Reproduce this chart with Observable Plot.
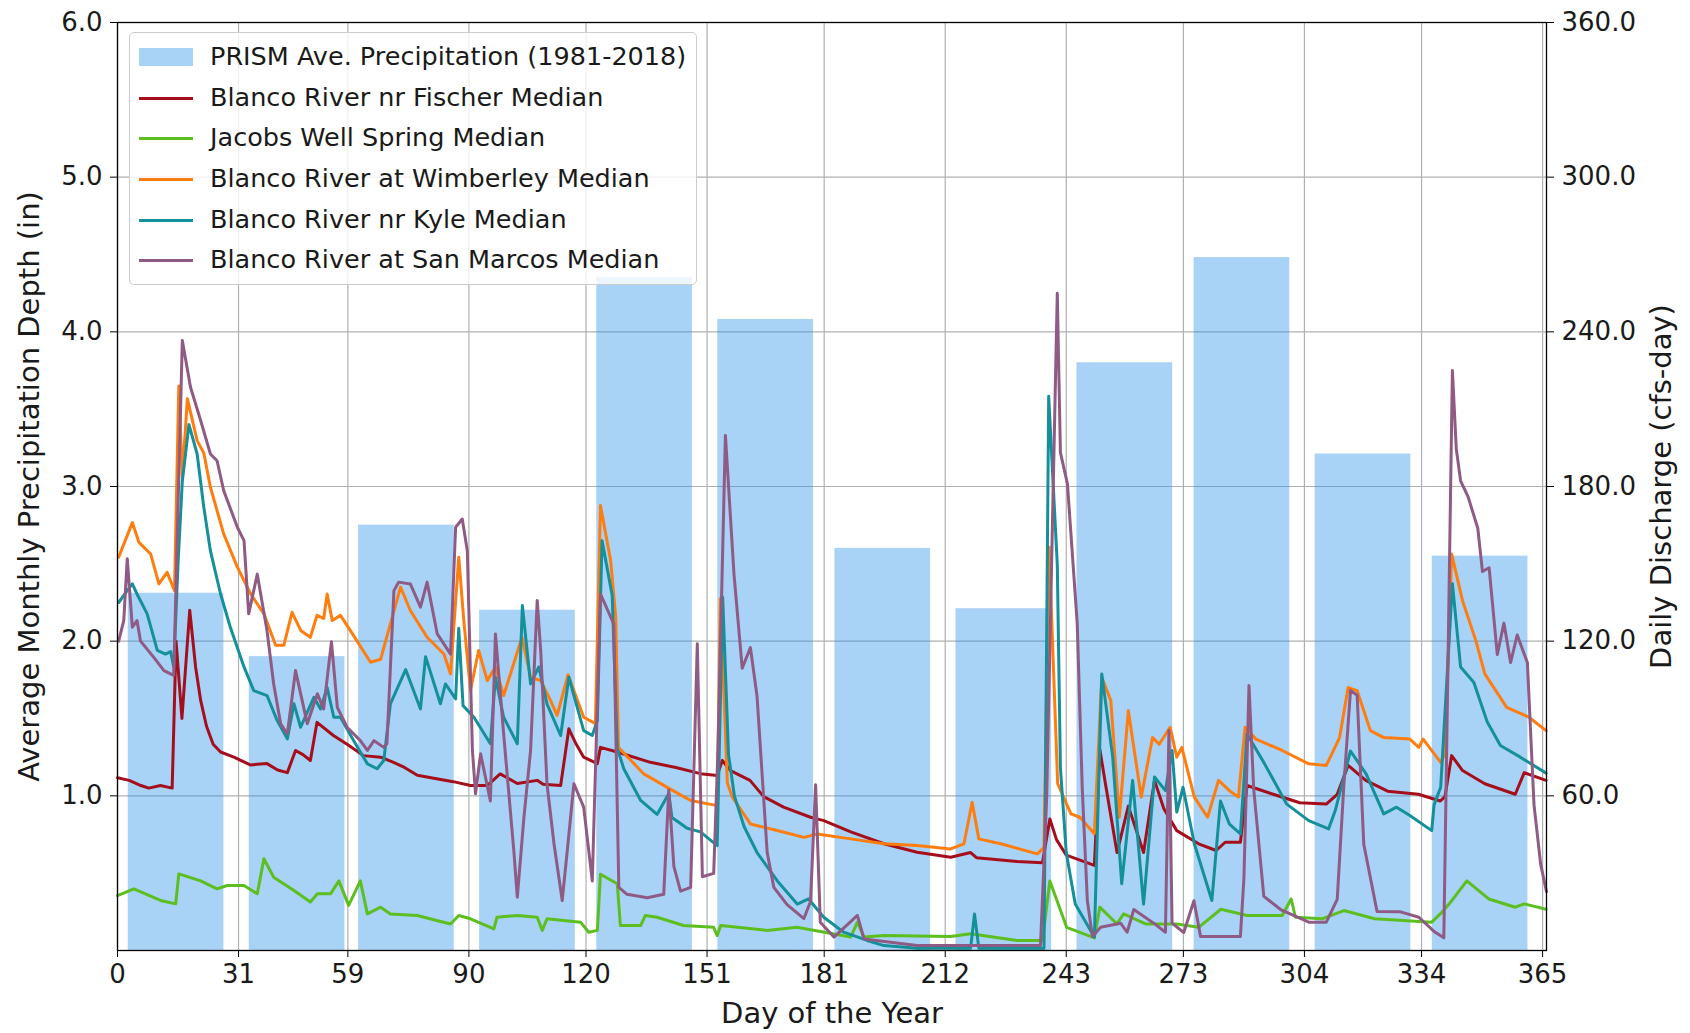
<!DOCTYPE html>
<html>
<head>
<meta charset="utf-8">
<script src="https://cdn.jsdelivr.net/npm/d3@7"></script>
<script src="https://cdn.jsdelivr.net/npm/@observablehq/plot@0.6"></script>
<style>
  html, body { margin: 0; padding: 0; background: #fff; }
  #wrap { position: relative; width: 1690px; height: 1033px; font-family: "DejaVu Sans", sans-serif; }
  #legend { position: absolute; left: 129px; top: 32px; width: 568px; height: 253px;
    background: rgba(255,255,255,0.8); border: 1px solid #cccccc; border-radius: 5px; box-sizing: border-box; }
  .row { position: absolute; left: 0; height: 0; }
  .sw { position: absolute; left: 9px; width: 54px; }
  .lab { position: absolute; left: 80px; font-size: 25.5px; color: #1a1a1a; white-space: nowrap; transform: translateY(-50%); line-height: 1; }
</style>
</head>
<body>
<div id="wrap"></div>
<script>
// ---- data ----
const monthStart = [0, 31, 59, 90, 120, 151, 181, 212, 243, 273, 304, 334];
const precipIn = [2.31, 1.90, 2.75, 2.20, 4.35, 4.08, 2.60, 2.21, 3.80, 4.48, 3.21, 2.55];
const dayTicks = [0, 31, 59, 90, 120, 151, 181, 212, 243, 273, 304, 334, 365];
const leftTicks = [1, 2, 3, 4, 5, 6];
const cfsPerIn = 60; // right axis (cfs-day) / left axis (in)

const seriesNames = [
  "PRISM Ave. Precipitation (1981-2018)",
  "Blanco River nr Fischer Median",
  "Jacobs Well Spring Median",
  "Blanco River at Wimberley Median",
  "Blanco River nr Kyle Median",
  "Blanco River at San Marcos Median"
];

// [day, cfs-day]
const fischer = [[0,67],[3,66],[6,64],[8,63],[11,64],[14,63],[15,120],[16.5,90],[18.5,132],[20,110],[21.3,97],[22.8,87],[24.5,80],[26.4,77],[29.8,75],[34,72],[38.3,72.5],[41,70],[43.5,69],[45.6,77.6],[47.5,76],[49.4,73.7],[51.1,88.5],[55.3,83.4],[58.8,80],[63,75.6],[67.4,75],[70.7,73],[73.5,71],[76.8,68],[81,66.8],[86,65.5],[90.4,64],[94.7,64],[98,68.5],[102.4,64.8],[107.5,66],[109,64.5],[113.5,64],[115.6,86],[117.5,80],[119.4,75],[122.9,72.5],[123.7,78.8],[128,77],[136.5,73],[143,71],[149.3,68.6],[153.6,67.9],[154.9,73.7],[157,69.8],[162,66],[165.5,59.7],[170.6,55.6],[177.5,51.7],[180.9,50.4],[187.8,46],[196.3,41.4],[204.8,38.1],[213.4,36.2],[218.5,38],[220,36],[230.4,34.5],[236.9,34],[238.8,51],[240.5,43],[243,37],[250.2,33],[251.6,78],[253,65],[256,38],[258.9,56],[262.8,38],[265.6,66],[268,55],[271.3,46.5],[276.9,41.4],[281.4,38.8],[283.7,42],[287.6,42],[289.3,64],[296,60.6],[302.8,57.3],[309.6,56.8],[312.4,60.6],[315.2,71.8],[319.7,66],[325.3,61.8],[333.2,60.6],[338.8,58],[340,59.7],[341.7,75.6],[344.5,69.8],[350.2,64.7],[358,60.6],[360.3,69],[365.9,66]];

const jacobsWell = [[0,21.3],[4.2,23.9],[11,19.4],[14.9,18.1],[15.7,29.7],[21.3,27],[25.5,23.9],[28.1,25.2],[32.4,25.2],[35.8,22],[37.5,35.6],[40,28.4],[45.2,23.3],[49.4,18.8],[51.2,22],[54.6,22],[56.7,27],[59.2,17.5],[62.2,27],[64,14.2],[67.4,16.8],[69.9,14.2],[76.8,13.6],[81,11.9],[85.3,10.3],[87.4,13.6],[90.4,12.3],[96.4,8.4],[97.2,12.9],[102.4,13.6],[107.5,12.9],[108.8,7.8],[110,12.3],[118.6,11],[120.7,7.1],[122.9,7.8],[123.7,29.6],[128,25.9],[128.8,9.7],[134,9.7],[135.2,13.6],[138.2,12.9],[145,9.7],[152.7,9],[153.6,5.8],[154.5,9.7],[166.4,7.8],[174,9],[187.8,5.2],[189.5,11],[191.2,5.2],[196.3,5.8],[213.4,5.4],[218.5,6.5],[230.4,3.9],[236.9,3.9],[238.8,27],[243.1,9],[250.2,4.9],[251.6,16.8],[256,10.3],[257.7,14.2],[263.3,10.3],[271.3,10.3],[276.9,9],[282.6,16],[289.3,13.6],[298.3,13.6],[300.6,20],[301.7,12.9],[308.5,12.3],[314.1,15.5],[322,12.3],[336.6,11],[338.8,14.2],[341.1,18.1],[345.6,27],[351.2,20],[358,16.8],[360.3,18.1],[365.9,16]];

const wimberley = [[0.3,152.6],[3.8,166],[5.5,158.3],[8.5,153.8],[10.6,142.2],[12.7,146.7],[14.6,139.6],[15.7,219],[16.6,183.6],[17.9,214],[20.4,197.8],[22.1,193],[23.8,179.7],[27.2,161.6],[30.7,148.7],[34.1,138.3],[37.5,130.6],[40.5,118.4],[42.6,118.4],[44.7,131.2],[47,124],[49.4,121.5],[51.1,130],[52.8,128.8],[53.7,138.3],[55,128],[57.1,130],[59.7,124],[64.8,111.8],[67.4,113],[72.5,141],[75,131.9],[79.3,121.5],[83.6,115],[85.3,107.3],[87.4,152.6],[88.7,128],[90.4,100.9],[92.5,116.4],[94.7,104.7],[96.8,110],[98.9,98.9],[103.6,121.5],[105.8,106],[108.4,104.7],[110.9,97],[112.6,91.2],[115.4,107],[119.4,90.5],[122.4,88],[123.7,172.6],[126.3,151.3],[127.6,129.3],[128.3,78.8],[134.8,68.5],[140.8,63.3],[146.8,58.2],[153.6,56.2],[154.4,136.5],[156.2,65],[157.5,59.4],[162.1,49.1],[170.7,45.9],[175.8,43.9],[179.2,45.2],[187.8,43.3],[196.3,41.4],[204.8,40.7],[213.4,39.4],[216.8,41.4],[218.9,57.5],[220.6,43.3],[226.2,41.4],[235.6,37.5],[237.3,40],[238.6,156.4],[240.8,64.7],[244.2,53],[246.5,51.7],[250.2,45.3],[252.1,106],[254.4,97],[256.6,51.7],[258.9,93],[262.2,59.5],[265.1,82.6],[266.8,80],[269.6,86.6],[271.3,75],[272.6,78.8],[275.8,59.5],[279.2,51.7],[282,66],[284.8,62],[287.1,59.5],[288.8,86.6],[291.6,82],[298.3,77.6],[305.1,72.4],[309.6,71.8],[313,82.6],[315.2,102],[317.5,100.8],[320.9,85.3],[324.3,82.6],[331,82],[333.3,78.8],[334.4,82],[338.9,73],[340,76],[341.7,153.8],[344.5,135.7],[347.9,120.2],[350.2,107.3],[355.8,94.3],[361.5,90.5],[365.9,85.3]];

const kyle = [[0.3,135],[2.5,139.6],[3.8,142.2],[5,138.3],[7.6,130.6],[10.2,116.4],[12.3,115],[13.6,116],[14.4,110],[15.5,150],[16.6,182],[18.3,204],[20.4,192.6],[22.1,172],[23.8,155],[26.4,138.3],[28.9,125.4],[32.4,110],[34.9,100.8],[38.3,98.9],[40.9,89.2],[43.5,82.1],[45.2,95.7],[46.9,86.6],[50.3,98.2],[52,93.7],[53.7,102],[55.4,90.5],[57.1,90.5],[60.5,81.4],[64,72.4],[66.5,70.5],[68.2,73.7],[69.9,95.7],[73.8,109],[77.6,93.7],[78.9,114],[82.7,95.7],[84,103.4],[86.6,97.6],[87.4,125],[88.5,95],[91.3,90.5],[95.5,80.2],[96.8,106],[98.9,90.5],[102.4,80.2],[103.7,133.8],[105.8,103.4],[107.9,110],[110,95.7],[113.5,83.4],[115.6,106],[119.4,85.3],[121.6,83.4],[122.9,89.2],[124.1,159],[126.7,137.8],[128,78.5],[129.7,70.4],[134,58.2],[138.2,52.8],[141.2,60.9],[142,51.6],[145.9,47.4],[149.3,46],[153.6,40.7],[155,137],[156.5,76],[158,60],[160.5,48],[163.8,38],[169,27],[174.1,18],[177,20],[180.9,12.9],[186,7.1],[192,3.9],[196.3,1.9],[204.8,0.9],[218.5,0.9],[219.5,14.2],[220.6,0.9],[237.3,0.9],[238.5,215],[240.7,149.8],[241.5,71],[243,38],[245.3,18],[250.2,5.2],[252.1,107.3],[254.9,75],[257.2,25.9],[260,66],[262.8,18],[265.6,67.3],[268.4,62],[270.1,77.6],[271.3,53.7],[272.9,63.3],[275.8,41.4],[280.3,19.4],[282.5,58],[284.8,49],[287.6,45.2],[289.3,84],[293.8,72.4],[299.4,56.9],[305.1,50.4],[310.2,47.2],[311.9,54.3],[315.8,77.4],[319.8,68.5],[324.3,53],[327.6,55.6],[331,52.4],[336.6,46.5],[337.2,56.5],[338.9,63.3],[341.9,142.3],[344,110],[347.4,104],[350.8,88.7],[354.2,79.5],[359.3,75],[365.9,68.8]];

const sanMarcos = [[0.3,120],[1.6,128],[2.5,152],[3.8,125.4],[5,128],[5.9,120],[9.3,113.7],[11.9,108.6],[14.4,106.7],[16.6,236.6],[18.7,218.5],[21.3,205.6],[23.8,192.6],[25.5,190],[27.2,178.4],[30.7,164.2],[32.4,159],[33.6,130.6],[35.8,146],[38.3,124],[40,103.4],[41.8,87.9],[43.5,84],[45.6,108.6],[48.6,88],[51.2,99.6],[52.8,93.7],[54.8,119.8],[56.3,94.3],[58.8,86.6],[62.2,81.4],[64,77.6],[65.7,81.4],[68.2,78.8],[69,80.2],[70.8,139.6],[72,142.9],[75,142.2],[77.6,133.2],[79.3,142.9],[81.9,122.8],[85.3,115],[86.6,164.2],[88.3,167.4],[89.6,155],[90.9,77.6],[91.7,60.8],[93,76.3],[95.5,58],[96.8,122.8],[98.9,84],[101.5,38.8],[102.4,20.7],[104.1,51.7],[105.8,77.6],[107.5,135.8],[108.4,116],[110,64.7],[111.8,41.4],[113.9,19.4],[115.2,38.8],[116.9,64.7],[119.4,55.6],[121.6,27],[123.7,138.3],[127.1,126.7],[128.4,24.5],[130.5,21.8],[135.7,20.5],[139.9,21.8],[141.2,62.3],[142.5,32.6],[144.2,23],[146.8,24.5],[148.5,119],[149.8,28.6],[152.7,29.9],[153.8,78.5],[155.7,199.8],[157.9,145.9],[160,109.5],[162.1,117.5],[163.8,98.7],[166.4,38],[168.1,24.5],[171.5,17.8],[175.8,12.4],[177.5,19],[178.8,64.3],[180,11],[183.5,5.2],[189.5,13.6],[191.2,4.5],[204.8,1.9],[236.4,1.9],[238,60],[240.7,255],[241.5,193.2],[243.3,181],[245.8,127.1],[247.1,62.8],[248.4,19.3],[249.7,5.4],[251.8,9],[256.9,10.6],[258.6,7.1],[260.3,15.9],[265.4,10.6],[268.4,7.1],[269.3,85.4],[270.1,10.6],[273.1,7],[275.7,19.3],[277.4,5.4],[287.6,5.4],[288.5,28],[289.8,102.8],[291,62.8],[293.6,21],[297.9,15.9],[305.1,11],[309.6,11],[312.4,19.8],[314.1,64.2],[315.8,100.9],[317.5,99],[319.2,41.2],[322.6,15.1],[328.6,15],[333.3,12.9],[337.2,7.4],[339.7,4.9],[341.9,225],[342.9,194.5],[344,182.2],[345.9,176.1],[348.4,163.8],[349.6,147],[351.3,148.5],[353.4,114.8],[355.1,127],[356.8,111.7],[358.5,122.4],[361.1,111.7],[362.8,56.5],[364.5,33.5],[366,22.8]];

// ---- styles ----
const barColor = "#268ee8", barOpacity = 0.4;
const lineColors = ["#a50f1c", "#5cbf1f", "#ff7d0f", "#14909b", "#8f5b84"];
const lineSeries = [fischer, jacobsWell, wimberley, kyle, sanMarcos];
const barCenterOffset = 15, barHalfWidth = 12.25;

const bars = monthStart.map((s, i) => ({start: s, p: precipIn[i]}));

const lineMarks = lineSeries.map((s, i) => Plot.line(s, {
  x: d => d[0], y: d => d[1] / cfsPerIn,
  stroke: lineColors[i], strokeWidth: 3, strokeLinejoin: "round"
}));

const chart = Plot.plot({
  width: 1690, height: 1033,
  marginLeft: 117, marginRight: 144, marginTop: 22, marginBottom: 83,
  style: {fontFamily: "DejaVu Sans", background: "white", color: "#1a1a1a"},
  x: {domain: [0, 366]},
  y: {domain: [0, 6]},
  marks: [
    Plot.gridX(dayTicks, {stroke: "#b0b0b0", strokeOpacity: 1, strokeWidth: 1.2}),
    Plot.gridY(leftTicks, {stroke: "#b0b0b0", strokeOpacity: 1, strokeWidth: 1.2}),
    Plot.rectY(bars, {x1: d => d.start + barCenterOffset - barHalfWidth, x2: d => d.start + barCenterOffset + barHalfWidth, y: "p", fill: barColor, fillOpacity: barOpacity}),
    ...lineMarks,
    Plot.frame({stroke: "#000", strokeWidth: 1.3}),
    Plot.axisX(dayTicks, {tickSize: 7, tickPadding: 7, fontSize: 26, tickFormat: d => String(d), label: null, stroke: "#000"}),
    Plot.axisY(leftTicks, {anchor: "left", tickSize: 7, tickPadding: 8, fontSize: 26, tickFormat: d => d.toFixed(1), label: null, stroke: "#000"}),
    Plot.axisY(leftTicks, {anchor: "right", tickSize: 7, tickPadding: 8, fontSize: 26, tickFormat: d => (d * cfsPerIn).toFixed(1), label: null, stroke: "#000"}),
    Plot.text(["Day of the Year"], {frameAnchor: "bottom", dy: 63, fontSize: 29, textAnchor: "middle", lineAnchor: "middle", fill: "#1a1a1a"}),
    Plot.text(["Average Monthly Precipitation Depth (in)"], {frameAnchor: "left", dx: -88, rotate: -90, fontSize: 29, textAnchor: "middle", lineAnchor: "middle", fill: "#1a1a1a"}),
    Plot.text(["Daily Discharge (cfs-day)"], {frameAnchor: "right", dx: 115, rotate: -90, fontSize: 29, textAnchor: "middle", lineAnchor: "middle", fill: "#1a1a1a"})
  ]
});

const wrap = document.getElementById("wrap");
wrap.appendChild(chart);

// legend (inside the plot, upper-left)
const legend = document.createElement("div");
legend.id = "legend";
const rowY = [24, 65, 105, 146, 187, 227];
seriesNames.forEach((name, i) => {
  const row = document.createElement("div");
  row.className = "row";
  row.style.top = rowY[i] + "px";
  const sw = document.createElement("div");
  sw.className = "sw";
  if (i === 0) {
    sw.style.top = "-9px"; sw.style.height = "18px";
    sw.style.background = barColor; sw.style.opacity = barOpacity;
  } else {
    sw.style.top = "-1.5px"; sw.style.height = "3px";
    sw.style.background = lineColors[i - 1];
  }
  const lab = document.createElement("div");
  lab.className = "lab";
  lab.textContent = name;
  row.appendChild(sw); row.appendChild(lab);
  legend.appendChild(row);
});
wrap.appendChild(legend);
</script>
</body>
</html>
